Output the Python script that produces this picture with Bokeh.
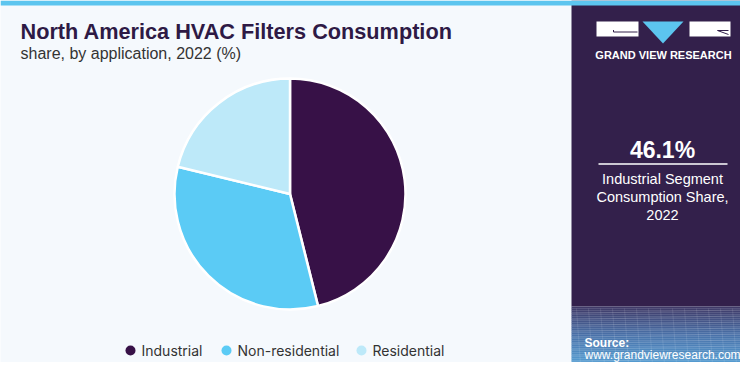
from bokeh.plotting import figure
from bokeh.models import Range1d
from bokeh.core.properties import value
from bokeh.embed import file_html
from bokeh.resources import INLINE
import math

# ---- data ----
categories = ["Industrial", "Non-residential", "Residential"]
shares = [46.1, 32.7, 21.2]
colors = ["#371147", "#5bcbf5", "#bde9f9"]
title = "North America HVAC Filters Consumption"
subtitle = "share, by application, 2022 (%)"
highlight_value = "46.1%"
highlight_lines = ["Industrial Segment", "Consumption Share,", "2022"]
source_lines = ["Source:", "www.grandviewresearch.com"]

FW, FH = 740, 362
W = 756


def Y(py):
    return FH - py


p = figure(width=FW, height=FH, x_range=Range1d(0, FW), y_range=Range1d(0, FH),
           output_backend="svg", toolbar_location=None, min_border=0,
           x_axis_location=None, y_axis_location=None)
p.grid.visible = False
p.outline_line_color = None
p.background_fill_color = "#f5f9fd"
p.border_fill_color = "#f5f9fd"

# right panel
panel_x0 = 571
p.quad(left=panel_x0, right=W, top=Y(0), bottom=Y(306), fill_color="#33204b", line_color=None)
# bottom gradient
c0 = (0x40, 0x3a, 0x68)
c1 = (0x4a, 0x72, 0xaa)
c2 = (0x5c, 0xb4, 0xe6)
n = 36
for i in range(n):
    t = i / (n - 1)
    if t < 0.4:
        u = t / 0.4
        c = tuple(int(c0[k] + (c1[k] - c0[k]) * u) for k in range(3))
    else:
        u = (t - 0.4) / 0.6
        c = tuple(int(c1[k] + (c2[k] - c1[k]) * u) for k in range(3))
    y0 = 306 + i * 2
    p.quad(left=panel_x0, right=W, top=Y(y0), bottom=Y(y0 + 2.2),
           fill_color="#%02x%02x%02x" % c, line_color=None)
# faint mesh lines
for k in range(11):
    yy = 311 + k * 6
    p.line([panel_x0, W], [Y(yy + 2), Y(yy - 2)], line_color="white", line_alpha=0.15, line_width=0.7)
for k in range(16):
    xx = panel_x0 + 5 + k * 12
    p.line([xx, xx + 5], [Y(308), Y(378)], line_color="white", line_alpha=0.15, line_width=0.7)

# top cyan bar
p.quad(left=0, right=W, top=Y(0), bottom=Y(5), fill_color="#5cc5ef", line_color=None)

# logo
p.quad(left=596, right=638, top=Y(21), bottom=Y(36), fill_color="white", line_color=None)
p.quad(left=689, right=730, top=Y(21), bottom=Y(36), fill_color="white", line_color=None)
p.patch([642, 683, 662.5], [Y(21), Y(21), Y(43)], fill_color="#5cc5ef", line_color=None)
p.line([613, 613, 637], [Y(29.5), Y(31.5), Y(31.5)], line_color="#33204b", line_width=1)
p.line([717, 728], [Y(30), Y(34)], line_color="#33204b", line_width=1)
p.line([717, 728], [Y(30), Y(30)], line_color="#33204b", line_width=1)
p.text(x=[663], y=[Y(54)], text=["GRAND VIEW RESEARCH"], text_color="white",
       text_font=value("Liberation Sans"), text_font_style="bold", text_font_size="11px",
       text_align="center", text_baseline="middle")

# titles
p.text(x=[20], y=[Y(30.5)], text=[title], text_color="#2e1a45",
       text_font=value("Liberation Sans"), text_font_style="bold", text_font_size="21.7px",
       text_align="left", text_baseline="middle")
p.text(x=[20], y=[Y(52.5)], text=[subtitle], text_color="#333333",
       text_font=value("Liberation Sans"), text_font_size="16px",
       text_align="left", text_baseline="middle")

# pie
cx, cy, r = 289.5, Y(193.5), 115.5
total = sum(shares)
cum = 0.0
for name, s, col in zip(categories, shares, colors):
    a0 = math.pi / 2 - 2 * math.pi * cum / total
    cum += s
    a1 = math.pi / 2 - 2 * math.pi * cum / total
    p.wedge(x=cx, y=cy, radius=r, start_angle=a1, end_angle=a0, direction="anticlock",
            fill_color=col, line_color="white", line_width=2.5)

# legend
leg_x = [130, 226, 361]
for lx, name, col in zip(leg_x, categories, colors):
    p.scatter(x=[lx], y=[Y(350)], size=10, marker="circle", fill_color=col, line_color=None)
    p.text(x=[lx + 11], y=[Y(350)], text=[name], text_color="#333333",
           text_font=value("Inter"), text_font_size="14px",
           text_align="left", text_baseline="middle")

# highlight
p.text(x=[662], y=[Y(149.5)], text=[highlight_value], text_color="white",
       text_font=value("Liberation Sans"), text_font_style="bold", text_font_size="23px",
       text_align="center", text_baseline="middle")
p.line([598, 727], [Y(163.5), Y(163.5)], line_color="white", line_width=1.5)
for i, t in enumerate(highlight_lines):
    p.text(x=[662], y=[Y(178.5 + 18 * i)], text=[t], text_color="white",
           text_font=value("Liberation Sans"), text_font_size="14.5px",
           text_align="center", text_baseline="middle")

# source
p.text(x=[584], y=[Y(342)], text=[source_lines[0]], text_color="white",
       text_font=value("Liberation Sans"), text_font_style="bold", text_font_size="12px",
       text_align="left", text_baseline="middle")
p.text(x=[584], y=[Y(354)], text=[source_lines[1]], text_color="white",
       text_font=value("Liberation Sans"), text_font_size="12px",
       text_align="left", text_baseline="middle")

open("out.html", "w").write(file_html(p, INLINE))
